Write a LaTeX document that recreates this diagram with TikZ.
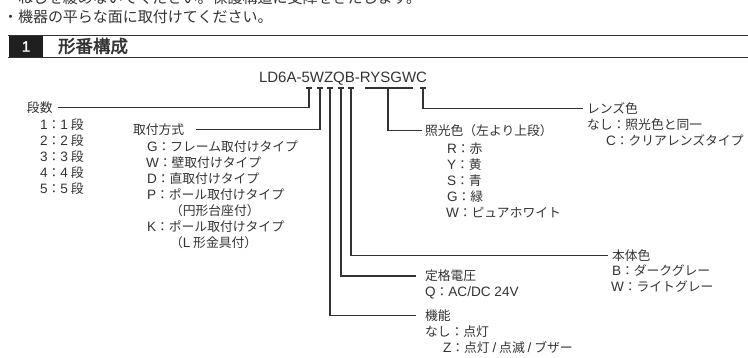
\documentclass[tikz,border=0pt]{standalone}
\usepackage{fontspec}
\setmainfont{Noto Sans CJK JP}
\newfontfamily\jpb[FakeBold=2.5]{Noto Sans CJK JP}
\newfontfamily\lat{Liberation Sans}
\newfontfamily\latb[FakeBold=1.5]{Liberation Sans}
\definecolor{ink}{HTML}{333333}
\newcommand{\lt}[1]{{\fontsize{13.6}{15}\lat #1}}
\begin{document}
\begin{tikzpicture}[x=1pt,y=-1pt,
  every node/.style={inner sep=0pt, outer sep=0pt, text=ink, font=\fontsize{12.8}{15}\selectfont},
  lbl/.style={anchor=base west, yshift=-4.8pt},
  note/.style={anchor=base west, yshift=-5.6pt, font=\fontsize{15}{15}\selectfont},
  conn/.style={draw=ink, line width=1.1pt},
  rule/.style={draw=ink, line width=1pt}]
\useasboundingbox (0,0) rectangle (748,358);
\clip (0,0) rectangle (748,358);

% top text
\node[note] (note1) at (3,-2) {・ねじを緩めないでください。保護構造に支障をきたします。};
\node[note] (note2) at (3,17) {・機器の平らな面に取付けてください。};

% header
\draw[rule] (8,35.5) -- (748,35.5);
\draw[rule] (8,57.2) -- (748,57.2);
\node[fill=black!88, minimum width=34pt, minimum height=21pt, anchor=north west,
      text=white, font=\fontsize{15}{15}\latb] (hnum) at (9,36) {1};
\node[lbl, font=\fontsize{17.5}{17}\jpb, yshift=-1.8pt] (title) at (58,46) {形番構成};

% model code
\node[lbl, font=\fontsize{15}{15}\lat, yshift=-0.6pt] (code) at (259,77) {LD6A-5WZQB-RYSGWC};

% labels
\node[lbl] (dan) at (27,108) {段数};
\node[lbl] (dan1) at (40,125) {\lt{1}：\lt{1} 段};
\node[lbl] (dan2) at (40,141) {\lt{2}：\lt{2} 段};
\node[lbl] (dan3) at (40,157) {\lt{3}：\lt{3} 段};
\node[lbl] (dan4) at (40,173) {\lt{4}：\lt{4} 段};
\node[lbl] (dan5) at (40,189) {\lt{5}：\lt{5} 段};

\node[lbl] (tori) at (133,130) {取付方式};
\node[lbl] (toriG) at (147,147) {\lt{G}：フレーム取付けタイプ};
\node[lbl] (toriW) at (146,163) {\lt{W}：壁取付けタイプ};
\node[lbl] (toriD) at (147,179) {\lt{D}：直取付けタイプ};
\node[lbl] (toriP) at (147,195) {\lt{P}：ポール取付けタイプ};
\node[lbl] (toriP2) at (170,211) {（円形台座付）};
\node[lbl] (toriK) at (147,227) {\lt{K}：ポール取付けタイプ};
\node[lbl] (toriK2) at (170,243) {（\lt{L} 形金具付）};

\node[lbl] (shoko) at (425,131) {照光色（左より上段）};
\node[lbl] (shokoR) at (447,149) {\lt{R}：赤};
\node[lbl] (shokoY) at (447,165) {\lt{Y}：黄};
\node[lbl] (shokoS) at (447,181) {\lt{S}：青};
\node[lbl] (shokoG) at (447,197) {\lt{G}：緑};
\node[lbl] (shokoW) at (446,213) {\lt{W}：ピュアホワイト};

\node[lbl] (lens) at (587,109) {レンズ色};
\node[lbl] (lens1) at (587,125) {なし：照光色と同一};
\node[lbl] (lens2) at (606,141) {\lt{C}：クリアレンズタイプ};

\node[lbl] (hontai) at (612,256) {本体色};
\node[lbl] (hontaiB) at (612,271) {\lt{B}：ダークグレー};
\node[lbl] (hontaiW) at (611,287) {\lt{W}：ライトグレー};

\node[lbl] (teikaku) at (425,276) {定格電圧};
\node[lbl] (teikakuQ) at (425,292) {\lt{Q}：\lt{AC/DC 24V}};

\node[lbl] (kino) at (425,316) {機能};
\node[lbl] (kino1) at (425,332) {なし：点灯};
\node[lbl] (kino2) at (443,348) {\lt{Z}：点灯 \lt{/} 点滅 \lt{/} ブザー};

% tick points under the code
\coordinate (k1) at (309,88);
\coordinate (k2) at (320,88);
\coordinate (k3) at (330,88);
\coordinate (k4) at (341,88);
\coordinate (k5) at (351,88);
\coordinate (kRa) at (365,88);
\coordinate (kRb) at (413,88);
\coordinate (kR) at (388,88);
\coordinate (kC) at (423,88);

\foreach \k in {k1,k2,k3,k4,k5,kC}
  \draw[conn] ([xshift=-3.2pt]\k) -- ([xshift=3.2pt]\k);
\draw[conn] (kRa) -- (kRb);

\draw[conn] (k1) |- ([xshift=5pt]dan.east);
\draw[conn] (k2) |- ([xshift=12pt]tori.east);
\draw[conn] (k3) |- ([xshift=-9pt]kino.west);
\draw[conn] (k4) |- ([xshift=-9pt]teikaku.west);
\draw[conn] (k5) |- ([xshift=-4pt]hontai.west);
\draw[conn] (kR) |- ([xshift=-3pt]shoko.west);
\draw[conn] (kC) |- ([xshift=-4pt]lens.west);
\end{tikzpicture}
\end{document}
